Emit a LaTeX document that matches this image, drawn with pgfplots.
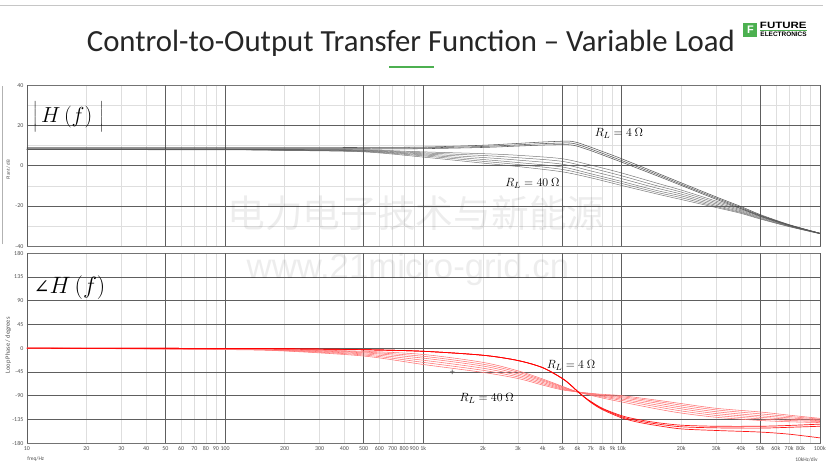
\documentclass[border=0pt]{standalone}
\usepackage{pgfplots}
\pgfplotsset{compat=1.18}
\usepackage{graphicx}
\usepackage{fontspec}
\setmainfont{Carlito}
\newfontfamily\cjk{Noto Sans CJK SC}
\newfontfamily\arial{Liberation Sans}
\newfontfamily\djs{DejaVu Serif}
\definecolor{majg}{HTML}{5E5E5E}
\definecolor{ming}{HTML}{DEDEDE}
\definecolor{fgreen}{HTML}{4CB050}
\definecolor{tickc}{HTML}{505050}
\tikzset{
  magU/.style={black!75, line width=0.55pt, smooth, opacity=0.85},
  magL/.style={black!65, line width=0.5pt, smooth, opacity=0.8},
  phU/.style={red, line width=0.7pt, smooth, opacity=0.9},
  phL/.style={red!55, line width=0.55pt, smooth},
}
\begin{document}
\begin{tikzpicture}
\begin{scope}[x=1pt,y=1pt]
\useasboundingbox (0,0) rectangle (829,470);
\fill[white] (0,0) rectangle (829,470);
\draw[gray!45] (0,465) -- (829,465);
\node[font=\fontsize{31}{34}\selectfont, text=black!85] at (414,426) {Control-to-Output Transfer Function – Variable Load};
\fill[fgreen] (392,401) rectangle (437,403.5);
% logo
\fill[fgreen] (749,433) rectangle (763,447);
\node[text=white, font=\arial\bfseries\fontsize{11}{11}\selectfont, inner sep=0] at (756,440) {F};
\node[anchor=west, font=\arial\bfseries\fontsize{9.2}{9.2}\selectfont, inner sep=0] at (765.5,444) {\scalebox{1.26}[1]{FUTURE}};
\fill[fgreen] (766,439.3) rectangle (813,440.1);
\node[anchor=west, font=\arial\bfseries\fontsize{6.5}{6.5}\selectfont, inner sep=0] at (766,435.6) {ELECTRONICS};
% side line
\draw[gray!60] (2,224) -- (2,383);
\end{scope}

\begin{axis}[at={(27pt,222pt)}, anchor=south west, scale only axis, width=799pt, height=162pt,
  xmode=log, xmin=10, xmax=100000, ymin=-40, ymax=40,
  axis line style={draw=black!55, line width=0.5pt},
  xtick={10,20,30,40,50,60,70,80,90,100,200,300,400,500,600,700,800,900,1000,2000,3000,4000,5000,6000,7000,8000,9000,10000,20000,30000,40000,50000,60000,70000,80000,90000,100000},
  xticklabels={},
  grid=major, major grid style={draw=ming, line width=0.6pt},
  extra x ticks={10,50,100,500,1000,5000,10000,50000,100000},
  extra x tick labels={,,,,,,,,},
  extra x tick style={grid=major, major grid style={draw=majg, line width=0.6pt}},
  ytick={-40,-30,-20,-10,0,10,20,30,40}, yticklabels={-40,,-20,,0,,20,,40},
  extra y ticks={-20,0,20}, extra y tick labels={,,},
  extra y tick style={grid=major, major grid style={draw=majg, line width=0.6pt}},
  major tick length=0pt, minor tick length=0pt,
  tick label style={font=\fontsize{6}{7}\selectfont, text=tickc}]
% RL = 4 ohm group
\addplot[magU] coordinates {(10,9.0) (100,9.0) (200,9.0) (500,9.1) (1000,9.3) (2000,10.2) (3000,11.1) (4000,11.8) (5000,12.2) (5500,12.2) (6000,11.5) (7000,9.2) (8000,7.1) (10000,3.5) (15000,-3.5) (20000,-8.5) (30000,-15.5) (40000,-20.3) (50000,-24.3) (70000,-29.3) (100000,-33.6)};
\addplot[magU] coordinates {(10,8.6) (100,8.6) (200,8.6) (500,8.7) (1000,8.9) (2000,9.6) (3000,10.4) (4000,11.0) (5000,11.3) (5500,11.3) (6000,10.6) (7000,8.3) (8000,6.2) (10000,2.6) (15000,-4.2) (20000,-9.2) (30000,-16.1) (40000,-20.8) (50000,-24.7) (70000,-29.5) (100000,-33.6)};
\addplot[magU] coordinates {(10,8.2) (100,8.2) (200,8.2) (500,8.3) (1000,8.5) (2000,9.1) (3000,9.8) (4000,10.3) (5000,10.5) (5500,10.4) (6000,9.7) (7000,7.5) (8000,5.4) (10000,1.8) (15000,-4.9) (20000,-9.8) (30000,-16.7) (40000,-21.3) (50000,-25.1) (70000,-29.7) (100000,-33.6)};
% RL = 40 ohm group
\addplot[magL] coordinates {(10,8.1) (100,8.1) (200,8.0) (500,7.9) (1000,6.9) (2000,6.0) (3000,5.2) (5000,3.5) (7000,0.3) (10000,-3.6) (15000,-8.6) (20000,-12.1) (30000,-17.6) (40000,-21.4) (50000,-24.7) (70000,-29.4) (100000,-33.6)};
\addplot[magL] coordinates {(10,8.1) (100,8.1) (200,8.0) (500,7.7) (1000,6.4) (2000,5.1) (3000,4.0) (5000,2.2) (7000,-1.1) (10000,-5.0) (15000,-9.9) (20000,-13.1) (30000,-18.3) (40000,-21.9) (50000,-25.0) (70000,-29.6) (100000,-33.6)};
\addplot[magL] coordinates {(10,8.1) (100,8.1) (200,7.9) (500,7.5) (1000,5.9) (2000,4.1) (3000,2.8) (5000,0.8) (7000,-2.6) (10000,-6.4) (15000,-11.1) (20000,-14.1) (30000,-19.0) (40000,-22.4) (50000,-25.4) (70000,-29.8) (100000,-33.7)};
\addplot[magL] coordinates {(10,8.0) (100,8.0) (200,7.8) (500,7.3) (1000,5.4) (2000,3.1) (3000,1.6) (5000,-0.6) (7000,-4.0) (10000,-7.8) (15000,-12.3) (20000,-15.0) (30000,-19.7) (40000,-22.9) (50000,-25.8) (70000,-30.0) (100000,-33.7)};
\addplot[magL] coordinates {(10,8.0) (100,8.0) (200,7.7) (500,7.1) (1000,4.9) (2000,2.2) (3000,0.6) (5000,-1.8) (7000,-5.0) (10000,-8.8) (15000,-13.2) (20000,-15.9) (30000,-20.3) (40000,-23.3) (50000,-26.2) (70000,-30.2) (100000,-33.8)};
\addplot[magL] coordinates {(10,8.0) (100,7.9) (200,7.6) (500,6.9) (1000,4.3) (2000,1.3) (3000,-0.4) (5000,-3.0) (7000,-6.0) (10000,-9.8) (15000,-14.0) (20000,-16.8) (30000,-20.8) (40000,-23.7) (50000,-26.5) (70000,-30.3) (100000,-33.8)};
\node[font=\fontsize{12.5}{14}\selectfont] at (axis cs:9700,16.3) {$R_L = 4\ \Omega$};
\node[font=\fontsize{12.5}{14}\selectfont] at (axis cs:3550,-8.9) {$R_L = 40\ \Omega$};
\end{axis}

\begin{axis}[at={(27pt,23.5pt)}, anchor=south west, scale only axis, width=799pt, height=191.5pt,
  xmode=log, xmin=10, xmax=100000, ymin=-180, ymax=180,
  axis line style={draw=black!55, line width=0.5pt},
  xtick={10,20,30,40,50,60,70,80,90,100,200,300,400,500,600,700,800,900,1000,2000,3000,4000,5000,6000,7000,8000,9000,10000,20000,30000,40000,50000,60000,70000,80000,90000,100000},
  xticklabels={10,20,30,40,50,60,70,80,90,100,200,300,400,500,600,700,800,900,1k,2k,3k,4k,5k,6k,7k,8k,9k,10k,20k,30k,40k,50k,60k,70k,80k,,100k},
  grid=major, major grid style={draw=ming, line width=0.6pt},
  extra x ticks={10,50,100,500,1000,5000,10000,50000,100000},
  extra x tick labels={,,,,,,,,},
  extra x tick style={grid=major, major grid style={draw=majg, line width=0.6pt}},
  ytick={-180,-135,-90,-45,0,45,90,135,180}, yticklabels={-180,-135,-90,-45,0,45,90,135,180},
  extra y ticks={-135,-90,-45,0,45,90,135}, extra y tick labels={,,,,,,},
  extra y tick style={grid=major, major grid style={draw=majg, line width=0.6pt}},
  major tick length=0pt, minor tick length=0pt,
  tick label style={font=\fontsize{6}{7}\selectfont, text=tickc}]
% RL = 40 ohm group
\addplot[phL] coordinates {(10,0) (100,-1.2) (200,-2.5) (500,-6) (1000,-12) (2000,-27) (3000,-43) (4000,-58.5) (5000,-72) (6000,-83) (7000,-89.5) (8000,-94.5) (10000,-102) (15000,-115) (20000,-123) (30000,-131) (50000,-137) (70000,-139.5) (100000,-141)};
\addplot[phL] coordinates {(10,0) (100,-1.5) (200,-3.0) (500,-7.5) (1000,-15.5) (2000,-30.5) (3000,-45.5) (4000,-60.5) (5000,-73) (6000,-83) (7000,-88.5) (8000,-92.5) (10000,-99) (15000,-111) (20000,-119) (30000,-127.5) (50000,-134) (70000,-137) (100000,-139)};
\addplot[phL] coordinates {(10,0) (100,-1.8) (200,-3.6) (500,-9) (1000,-19) (2000,-34) (3000,-48.5) (4000,-62.5) (5000,-74.5) (6000,-83) (7000,-87.5) (8000,-91) (10000,-96.5) (15000,-107.5) (20000,-115) (30000,-124) (50000,-131) (70000,-134.5) (100000,-137.5)};
\addplot[phL] coordinates {(10,0) (100,-2.1) (200,-4.2) (500,-11) (1000,-23) (2000,-38) (3000,-51.5) (4000,-65) (5000,-76) (6000,-83) (7000,-86.8) (8000,-89.5) (10000,-94) (15000,-104) (20000,-111.5) (30000,-120.5) (50000,-128) (70000,-132) (100000,-136)};
\addplot[phL] coordinates {(10,0) (100,-2.4) (200,-4.8) (500,-13) (1000,-27) (2000,-42) (3000,-54.5) (4000,-67.5) (5000,-77.5) (6000,-83) (7000,-86.2) (8000,-88.5) (10000,-92) (15000,-101) (20000,-108) (30000,-117) (50000,-124.5) (70000,-129.5) (100000,-134.5)};
\addplot[phL] coordinates {(10,0) (100,-2.8) (200,-5.5) (500,-15) (1000,-31) (2000,-46) (3000,-57.5) (4000,-70) (5000,-79) (6000,-83) (7000,-85.6) (8000,-87.5) (10000,-90) (15000,-98.5) (20000,-105) (30000,-114) (50000,-121) (70000,-127) (100000,-133)};
% RL = 4 ohm group
\addplot[phU] coordinates {(10,0) (100,-0.6) (200,-1.2) (500,-3) (1000,-6) (2000,-13.5) (3000,-23.5) (4000,-37) (5000,-57) (5500,-69) (6000,-82) (6500,-93) (7000,-101) (8000,-114) (10000,-128) (12000,-135) (15000,-141) (20000,-146) (30000,-148) (50000,-148) (70000,-146.5) (100000,-144)};
\addplot[phU] coordinates {(10,0) (100,-0.6) (200,-1.2) (500,-3) (1000,-6) (2000,-13.5) (3000,-23.5) (4000,-37) (5000,-57) (5500,-69) (6000,-82) (6500,-93) (7000,-102) (8000,-115) (10000,-130) (12000,-137.5) (15000,-143.5) (20000,-149) (30000,-151) (50000,-151.5) (70000,-150) (100000,-148)};
\addplot[phU] coordinates {(10,0) (100,-0.6) (200,-1.2) (500,-3) (1000,-6) (2000,-13.5) (3000,-23.5) (4000,-37) (5000,-57) (5500,-69) (6000,-82) (6500,-93) (7000,-103) (8000,-116.5) (10000,-132) (12000,-140) (15000,-146.5) (20000,-153) (30000,-156) (50000,-159) (70000,-163) (100000,-170)};
\node[font=\fontsize{12.5}{14}\selectfont] at (axis cs:5560,-32.5) {$R_L = 4\ \Omega$};
\node[font=\fontsize{12.5}{14}\selectfont] at (axis cs:2090,-94.6) {$R_L = 40\ \Omega$};
\node[font=\fontsize{10}{10}\selectfont, text=black!70] at (axis cs:1400,-47.5) {+};
\end{axis}

\begin{scope}[x=1pt,y=1pt]
% panel labels
\node[font=\fontsize{19}{22}\selectfont] at (69,352) {\scalebox{1.27}{$\left|\,H\left(f\rule[-4pt]{0pt}{15pt}\right)\rule[-6pt]{0pt}{20pt}\,\right|$}};
\node[font=\fontsize{19}{22}\selectfont] at (70,180) {\scalebox{1.38}{{\djs\fontsize{14}{16}\selectfont ∠}$H\left(f\rule[-4pt]{0pt}{15pt}\right)$}};
\node[rotate=90, font=\fontsize{5}{6}\selectfont, text=tickc] at (8.3,299) {Plant / dB};
\node[rotate=90, font=\fontsize{6.5}{7}\selectfont, text=tickc] at (8.3,122) {Loop Phase / degrees};
\node[font=\fontsize{5.5}{6}\selectfont, text=tickc] at (36,7.3) {freq/Hz};
\node[font=\fontsize{5.5}{6}\selectfont, text=tickc] at (812.5,6.7) {10kHz/div};
% watermark
\node[font=\cjk\fontsize{38}{40}\selectfont, text=black, opacity=0.07] at (419,255) {电力电子技术与新能源};
\node[font=\arial\fontsize{35}{38}\selectfont, text=black, opacity=0.07] at (411,198) {www.21micro-grid.cn};
\end{scope}
\end{tikzpicture}
\end{document}
